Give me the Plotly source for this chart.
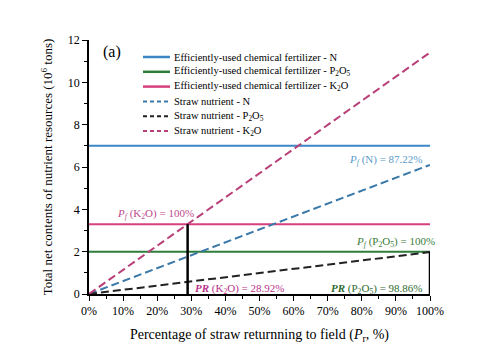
import plotly.graph_objects as go

# Data
x_pct = [0, 100]
chem_N = 7.0
chem_P = 2.0
chem_K = 3.3
straw_N_100 = 6.1
straw_P_100 = 1.98
straw_K_100 = 11.41
pr_K = 28.92
pr_P = 100.0

x_ticks = [0, 10, 20, 30, 40, 50, 60, 70, 80, 90, 100]
x_tick_labels = [f"{v}%" for v in x_ticks]
y_ticks = [0, 2, 4, 6, 8, 10, 12]

series_names = [
    "Efficiently-used chemical fertilizer - N",
    "Efficiently-used chemical fertilizer - P<sub>2</sub>O<sub>5</sub>",
    "Efficiently-used chemical fertilizer - K<sub>2</sub>O",
    "Straw nutrient - N",
    "Straw nutrient - P<sub>2</sub>O<sub>5</sub>",
    "Straw nutrient - K<sub>2</sub>O",
]

FONT = "Liberation Serif, Times New Roman, serif"
c_blue = "#3b86c4"
c_green = "#2e7d3a"
c_pink = "#d6407e"
c_blue_d = "#3a79a8"
c_black_d = "#222222"
c_pink_d = "#b83f78"

colors = [c_blue, c_green, c_pink, c_blue_d, c_black_d, c_pink_d]
dashes = ["solid", "solid", "solid", "8px,4px", "8px,4px", "8px,4px"]
yvals = [[chem_N, chem_N], [chem_P, chem_P], [chem_K, chem_K],
         [0, straw_N_100], [0, straw_P_100], [0, straw_K_100]]

fig = go.Figure()
for nm, col, ds, yy in zip(series_names, colors, dashes, yvals):
    fig.add_trace(go.Scatter(x=x_pct, y=yy, mode="lines",
                             line=dict(color=col, width=2, dash=ds),
                             name=nm, showlegend=False, cliponaxis=False))
# vertical markers
fig.add_trace(go.Scatter(x=[pr_K, pr_K], y=[0, chem_K], mode="lines",
                         line=dict(color="black", width=2.5), showlegend=False, cliponaxis=False))
fig.add_trace(go.Scatter(x=[pr_P, pr_P], y=[0, chem_P], mode="lines",
                         line=dict(color="black", width=2.5), showlegend=False, cliponaxis=False))

# custom compact legend (paper coordinates)
def px_to_paper(px, py):
    return (px - 89) / 341.0, (294 - py) / 254.0

for i, (nm, col, ds) in enumerate(zip(series_names, colors, dashes)):
    py = 57 + 14.8 * i
    x0, yp = px_to_paper(143, py)
    x1, _ = px_to_paper(170, py)
    xt, _ = px_to_paper(172, py)
    fig.add_shape(type="line", xref="paper", yref="paper", x0=x0, x1=x1, y0=yp, y1=yp,
                  line=dict(color=col, width=2.5 if ds == "solid" else 2,
                            dash="solid" if ds == "solid" else "4px,3px"))
    fig.add_annotation(x=xt, y=yp, xref="paper", yref="paper", text=nm, showarrow=False,
                       xanchor="left", yanchor="middle",
                       font=dict(family=FONT, size=10.5, color="black"))

ann = [
    dict(x=87, y=6.35, text="<i>P</i><sub><i>f</i></sub> (N) = 87.22%", color="#5b9bc9", xanchor="center"),
    dict(x=19.5, y=3.78, text="<i>P</i><sub><i>f</i></sub> (K<sub>2</sub>O) = 100%", color="#c04a8c", xanchor="center"),
    dict(x=90, y=2.45, text="<i>P</i><sub><i>f</i></sub> (P<sub>2</sub>O<sub>5</sub>) = 100%", color="#3b7d3b", xanchor="center"),
    dict(x=30.5, y=0.25, text="<b><i>PR</i></b> (K<sub>2</sub>O) = 28.92%", color="#b8338a", xanchor="left"),
    dict(x=98.5, y=0.25, text="<b><i>PR</i></b> (P<sub>2</sub>O<sub>5</sub>) = 98.86%", color="#2e6b2e", xanchor="right"),
]
for a in ann:
    fig.add_annotation(x=a["x"], y=a["y"], text=a["text"], showarrow=False,
                       xanchor=a["xanchor"], yanchor="middle",
                       font=dict(family=FONT, size=11, color=a["color"]))

ax, ay = px_to_paper(112, 52)
fig.add_annotation(x=ax, y=ay, xref="paper", yref="paper", text="(a)",
                   showarrow=False, xanchor="center", yanchor="middle",
                   font=dict(family=FONT, size=16, color="black"))

fig.update_layout(
    width=500, height=354,
    margin=dict(l=89, r=70, t=40, b=60),
    paper_bgcolor="white", plot_bgcolor="white",
    font=dict(family=FONT, size=12, color="black"),
    showlegend=False,
    xaxis=dict(range=[0, 100], tickvals=x_ticks, ticktext=x_tick_labels,
               showgrid=False, zeroline=False, showline=True, linecolor="black",
               linewidth=1.5, ticks="outside", ticklen=5, tickcolor="black",
               minor=dict(dtick=5, ticks="outside", ticklen=3, tickcolor="black"),
               tickfont=dict(family=FONT, size=12),
               title=dict(text="Percentage of straw returnning to field (<i>P</i><sub>r</sub>, %)",
                          font=dict(family=FONT, size=14), standoff=12)),
    yaxis=dict(range=[0, 12], tickvals=y_ticks,
               showgrid=False, zeroline=False, showline=True, linecolor="black",
               linewidth=1.5, ticks="outside", ticklen=5, tickcolor="black",
               minor=dict(dtick=1, ticks="outside", ticklen=3, tickcolor="black"),
               tickfont=dict(family=FONT, size=12),
               title=dict(text="Total net contents of nutrient resources (10<sup>6</sup> tons)",
                          font=dict(family=FONT, size=13), standoff=12)),
)

fig.write_html("out.html")
